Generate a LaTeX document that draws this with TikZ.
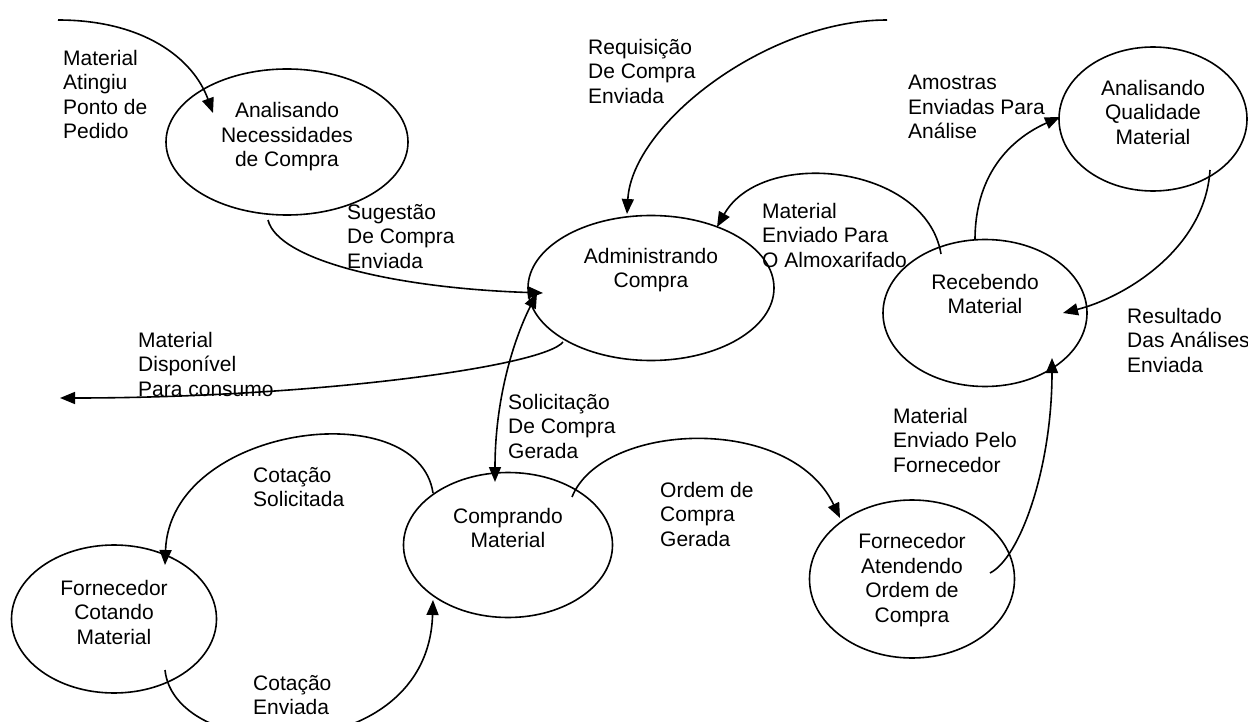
\documentclass[tikz,border=0pt]{standalone}
\usepackage{fontspec}
\setmainfont{Liberation Sans}
\usetikzlibrary{shapes.geometric,arrows.meta}

\begin{document}
\begin{tikzpicture}[x=1pt,y=-1pt,
	font=\fontsize{21}{24.5}\selectfont,
	>={Triangle[length=15pt,width=12pt]},
	proc/.style={draw, ellipse, line width=1.6pt, inner sep=0pt},
	ptxt/.style={align=center, inner sep=0pt},
	lbl/.style={align=left, anchor=north west, inner sep=0pt},
	flow/.style={->, line width=1.6pt}]

	\useasboundingbox (0,0) rectangle (1248,722);

	\node (nec)[proc, minimum width=242, minimum height=146] at (287,142) {};
	\node (adm)[proc, minimum width=246, minimum height=145] at (651,288) {};
	\node (rec)[proc, minimum width=204, minimum height=147] at (985,313) {};
	\node (qual)[proc, minimum width=188, minimum height=144] at (1153,119) {};
	\node (comp)[proc, minimum width=209, minimum height=145] at (508,545) {};
	\node (cot)[proc, minimum width=205, minimum height=148] at (114,619) {};
	\node (forn)[proc, minimum width=205, minimum height=158] at (912,579) {};

	\node (nec-t)[ptxt] at (287,137) {Analisando\\Necessidades\\de Compra};
	\node (adm-t)[ptxt] at (651,270) {Administrando\\Compra};
	\node (rec-t)[ptxt] at (985,294) {Recebendo\\Material};
	\node (qual-t)[ptxt] at (1153,112) {Analisando\\Qualidade\\Material};
	\node (comp-t)[ptxt] at (508,528) {Comprando\\Material};
	\node (cot-t)[ptxt] at (114,612) {Fornecedor\\Cotando\\Material};
	\node (forn-t)[ptxt] at (912,580) {Fornecedor\\Atendendo\\Ordem de\\Compra};

	\coordinate (ponto) at (58,20);
	\coordinate (requis) at (887,20);
	\coordinate (consumo) at (60,398);

	\draw[flow] (ponto) .. controls +(85,0) and +(-20,-55) .. ([shift={(-74,-29)}]nec.center);
	\draw[flow] (requis) .. controls +(-120,0) and +(5,-90) .. ([shift={(-24,-74)}]adm.center);
	\draw[flow] ([shift={(-19,78)}]nec.center) .. controls +(10,40) and +(-150,-5) .. ([shift={(-108,5)}]adm.center);
	\draw[flow] ([shift={(-88,54)}]adm.center) .. controls +(-20,25) and +(250,0) .. (consumo);
	\draw[flow, <->] ([shift={(-114,5)}]adm.center) .. controls +(-25,50) and +(0,-80) .. ([shift={(-13,-63)}]comp.center);
	\draw[flow] ([shift={(64,-48)}]comp.center) .. controls +(30,-75) and +(-50,-105) .. ([shift={(-72,-61)}]forn.center);
	\draw[flow] ([shift={(-75,-52)}]comp.center) .. controls +(-15,-100) and +(5,-140) .. ([shift={(51,-54)}]cot.center);
	\draw[flow] ([shift={(51,51)}]cot.center) .. controls +(10,95) and +(-5,170) .. ([shift={(-75,55)}]comp.center);
	\draw[flow] ([shift={(-44,-59)}]rec.center) .. controls +(-15,-90) and +(45,-80) .. ([shift={(66,-61)}]adm.center);
	\draw[flow] ([shift={(-10,-73)}]rec.center) .. controls +(0,-70) and +(-45,20) .. ([shift={(-93,-2)}]qual.center);
	\draw[flow] ([shift={(57,51)}]qual.center) .. controls +(-5,80) and +(60,-15) .. ([shift={(78,0)}]rec.center);
	\draw[flow] ([shift={(78,-6)}]forn.center) .. controls +(30,-15) and +(0,110) .. ([shift={(67,45)}]rec.center);

	\node (l-ponto)[lbl] at (63,50) {Material\\Atingiu\\Ponto de\\Pedido};
	\node (l-req)[lbl] at (588,39) {Requisição\\De Compra\\Enviada};
	\node (l-sug)[lbl] at (347,204) {Sugestão\\De Compra\\Enviada};
	\node (l-disp)[lbl] at (138,332) {Material\\Disponível\\Para consumo};
	\node (l-almox)[lbl] at (762,203) {Material\\Enviado Para\\O Almoxarifado};
	\node (l-amos)[lbl] at (908,75) {Amostras\\Enviadas Para\\Análise};
	\node (l-res)[lbl] at (1127,308) {Resultado\\Das Análises\\Enviada};
	\node (l-pelo)[lbl] at (893,408) {Material\\Enviado Pelo\\Fornecedor};
	\node (l-sol)[lbl] at (508,394) {Solicitação\\De Compra\\Gerada};
	\node (l-ordem)[lbl] at (660,482) {Ordem de\\Compra\\Gerada};
	\node (l-cots)[lbl] at (253,467) {Cotação\\Solicitada};
	\node (l-cote)[lbl] at (253,675) {Cotação\\Enviada};
\end{tikzpicture}
\end{document}
